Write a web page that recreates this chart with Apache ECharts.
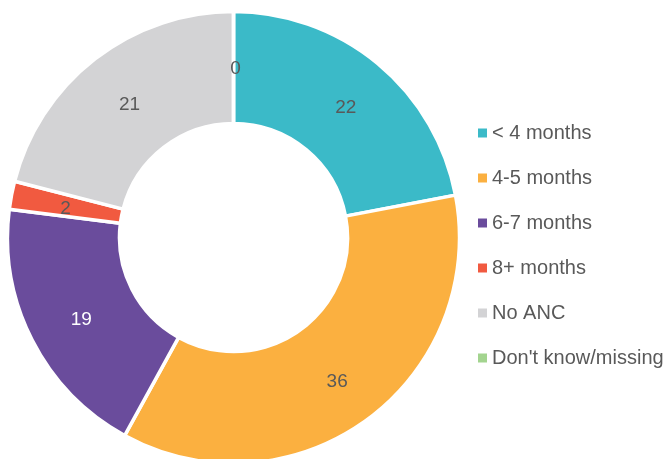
<!DOCTYPE html>
<html>
<head>
<meta charset="utf-8">
<script src="https://cdn.jsdelivr.net/npm/echarts@6/dist/echarts.min.js"></script>
<style>
  html, body { margin: 0; padding: 0; background: #fff; }
  #chart { width: 672px; height: 459px; }
</style>
</head>
<body>
<div id="chart"></div>
<script>
// ANC timing categories and shares (%)
var categories = ['< 4 months', '4-5 months', '6-7 months', '8+ months', 'No ANC', "Don't know/missing"];
var values = [22, 36, 19, 2, 21, 0];
var colors = ['#3bbac8', '#fbb040', '#6a4c9c', '#f15a40', '#d3d3d5', '#a3d48f'];
var labelColors = ['#595959', '#595959', '#ffffff', '#595959', '#595959', '#595959'];

var myChart = echarts.init(document.getElementById('chart'));

var data = categories.map(function (c, i) {
    return {
        name: c,
        value: values[i],
        itemStyle: { color: colors[i] },
        label: { color: labelColors[i] }
    };
});

var option = {
    animation: false,
    legend: {
        orient: 'vertical',
        left: 471,
        top: 117,
        itemWidth: 11,
        itemHeight: 11,
        itemGap: 23,
        icon: 'rect',
        textStyle: {
            color: '#595959',
            fontSize: 20,
            fontFamily: 'Liberation Sans, Arial, sans-serif',
            lineHeight: 22,
            padding: [0, 0, 0, -1]
        },
        data: categories
    },
    series: [{
        type: 'pie',
        center: [233.5, 237.5],
        radius: [114, 226],
        startAngle: 90,
        clockwise: true,
        avoidLabelOverlap: false,
        itemStyle: {
            borderColor: '#fff',
            borderWidth: 3.5
        },
        label: {
            show: true,
            position: 'inside',
            formatter: '{c}',
            fontSize: 19,
            fontFamily: 'Liberation Sans, Arial, sans-serif',
            offset: [2, 4]
        },
        labelLine: { show: false },
        emphasis: { disabled: true },
        data: data
    }]
};
myChart.setOption(option);
</script>
</body>
</html>
